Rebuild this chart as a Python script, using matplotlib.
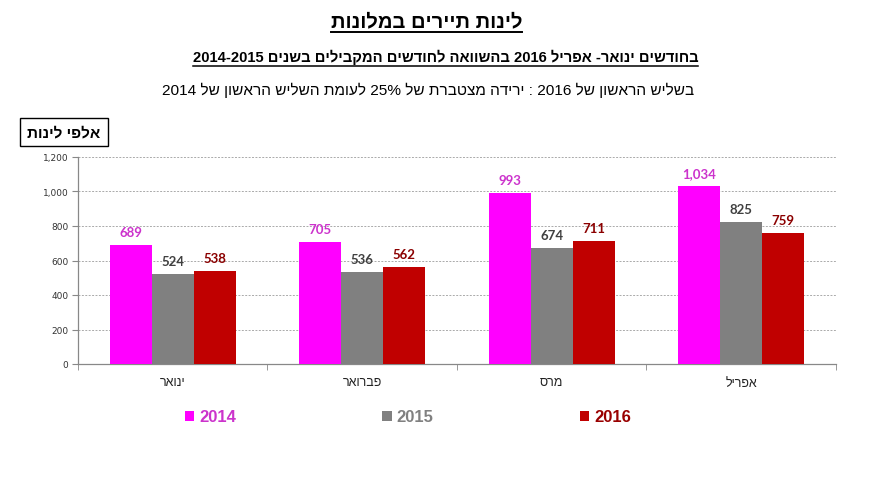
import re
import numpy as np
import matplotlib
matplotlib.use("Agg")
import matplotlib.pyplot as plt
from matplotlib.patches import Patch
from matplotlib.lines import Line2D

plt.rcParams['font.family'] = ['Liberation Sans', 'DejaVu Sans']

# ---- data ----
categories = ['ינואר', 'פברואר', 'מרס', 'אפריל']
years = ['2014', '2015', '2016']
v2014 = [689, 705, 993, 1034]
v2015 = [524, 536, 674, 825]
v2016 = [538, 562, 711, 759]
yticks = [0, 200, 400, 600, 800, 1000, 1200]

title = 'לינות תיירים במלונות'
subtitle = 'בחודשים ינואר- אפריל 2016 בהשוואה לחודשים המקבילים בשנים 2014-2015'
note = 'בשליש הראשון של 2016 : ירידה מצטברת של 25% לעומת השליש הראשון של 2014'
unit = 'אלפי לינות'

bar_colors = ['#FF00FF', '#808080', '#C00000']
label_colors = ['#CC33CC', '#404040', '#8B0000']
legend_text_colors = ['#CC33CC', '#808080', '#990000']


def vis(s):
    """Convert logical-order RTL text to visual order for left-to-right rendering."""
    tokens = re.findall(r'[0-9]+(?:[-,.][0-9]+)*%?|.', s, flags=re.S)
    return ''.join(reversed(tokens))


fig = plt.figure(figsize=(8.7, 4.89), dpi=100)
ax = fig.add_axes([78 / 870, 1 - 365 / 489, (836 - 78) / 870, (365 - 158) / 489])

x = np.arange(len(categories))
w = 0.222
series = [v2014, v2015, v2016]
for i, vals in enumerate(series):
    xs = x + (i - 1) * w
    ax.bar(xs, vals, width=w, color=bar_colors[i], zorder=3, linewidth=0)
    for xi, v in zip(xs, vals):
        ax.annotate(f'{v:,}', (xi, v), xytext=(0, 5), textcoords='offset points',
                    ha='center', va='bottom', fontsize=9.5, fontweight='bold',
                    color=label_colors[i], family=['Lato', 'DejaVu Sans'])

ax.set_xlim(-0.5, len(categories) - 0.5)
ax.set_ylim(0, 1200)
ax.set_yticks(yticks)
ax.set_yticklabels([f'{t:,}' for t in yticks], fontsize=6.5, family='DejaVu Sans', color='#333333')
ax.yaxis.grid(True, linestyle=(0, (2, 1.5)), color='#aaaaaa', linewidth=0.7, zorder=0)
ax.set_xticks(x)
ax.set_xticklabels([vis(c) for c in categories], fontsize=9, color='#222222')
ax.tick_params(axis='x', length=0, pad=9)
ax.set_xticks(np.arange(-0.5, len(categories)), minor=True)
ax.tick_params(axis='x', which='minor', length=4, color='#888888', direction='out')
ax.tick_params(axis='y', length=4, color='#888888', pad=3)
for s in ['top', 'right']:
    ax.spines[s].set_visible(False)
for s in ['left', 'bottom']:
    ax.spines[s].set_color('#888888')
    ax.spines[s].set_linewidth(0.9)

# titles
t1 = fig.text(0.49, 1 - 22 / 489, vis(title), ha='center', va='center', fontsize=14.5, fontweight='bold')
t2 = fig.text(0.512, 1 - 57 / 489, vis(subtitle), ha='center', va='center', fontsize=10.6, fontweight='bold')
t3 = fig.text(0.4915, 1 - 90 / 489, vis(note), ha='center', va='center', fontsize=11.1)
fig.text(64 / 870, 1 - 133 / 489, vis(unit), ha='center', va='center', fontsize=11, fontweight='bold',
         bbox=dict(boxstyle='square,pad=0.45', fc='white', ec='black', lw=1.0))

fig.canvas.draw()
r = fig.canvas.get_renderer()
for t, lw in [(t1, 1.4), (t2, 1.1)]:
    bb = t.get_window_extent(r).transformed(fig.transFigure.inverted())
    yline = bb.y0 - 0.004
    fig.add_artist(Line2D([bb.x0, bb.x1], [yline, yline], color='black', lw=lw, transform=fig.transFigure))

# legend
handles = [Patch(facecolor=c, edgecolor='none') for c in bar_colors]
leg = fig.legend(handles, years, loc='center', bbox_to_anchor=(408 / 870, 1 - 418 / 489), ncol=3,
                 frameon=False, prop={'size': 12, 'weight': 'bold'},
                 handlelength=0.55, handleheight=0.55, handletextpad=0.3, columnspacing=8.8)
for txt, c in zip(leg.get_texts(), legend_text_colors):
    txt.set_color(c)

fig.savefig('out.png', dpi=100)
